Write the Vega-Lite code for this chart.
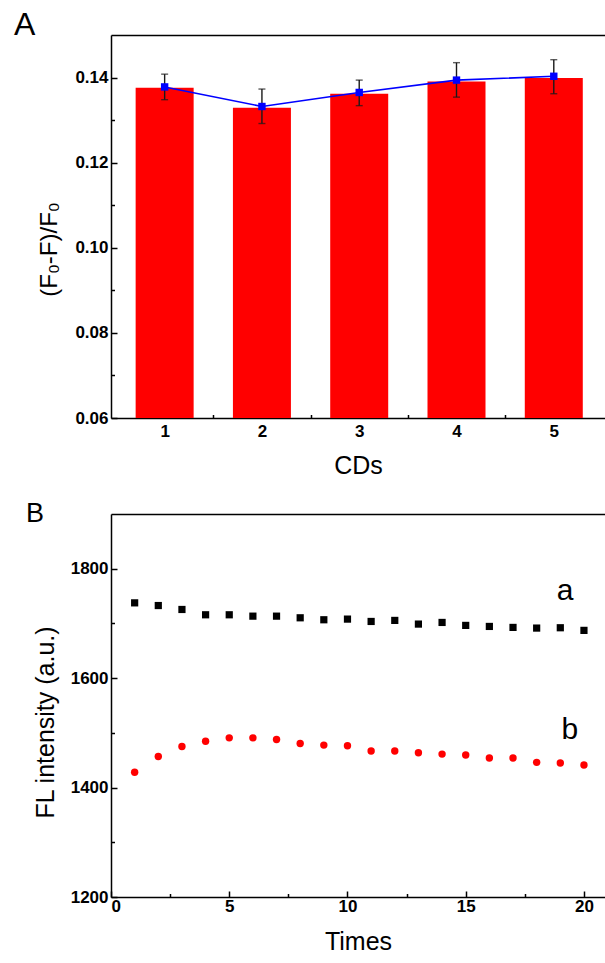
{
  "$schema": "https://vega.github.io/schema/vega-lite/v6.json",
  "autosize": {"type": "pad"},
  "padding": {"left": 14, "top": 9, "right": 0, "bottom": 0},
  "background": "white",
  "spacing": 96,
  "bounds": "flush",
  "config": {
    "view": {"stroke": null},
    "font": "Liberation Sans",
    "axis": {
      "grid": false,
      "domainColor": "black",
      "domainWidth": 1.5,
      "tickColor": "black",
      "tickWidth": 1.5,
      "labelColor": "black",
      "labelFont": "Liberation Sans",
      "labelFontWeight": "bold",
      "labelFontSize": 17,
      "titleColor": "black",
      "titleFont": "Liberation Sans",
      "titleFontWeight": "normal",
      "titleFontSize": 25
    }
  },
  "datasets": {
    "cds": [
      {"cd": 1, "bar": 0.1376, "mean": 0.1378, "lo": 0.1348, "hi": 0.1408},
      {"cd": 2, "bar": 0.1329, "mean": 0.1332, "lo": 0.1292, "hi": 0.1373},
      {"cd": 3, "bar": 0.1362, "mean": 0.1365, "lo": 0.1334, "hi": 0.1394},
      {"cd": 4, "bar": 0.1391, "mean": 0.1394, "lo": 0.1354, "hi": 0.1435},
      {"cd": 5, "bar": 0.1399, "mean": 0.1403, "lo": 0.1362, "hi": 0.1442}
    ],
    "fl": [
      {"t": 1, "s": "a", "v": 1737.6}, {"t": 2, "s": "a", "v": 1732.7}, {"t": 3, "s": "a", "v": 1725.5},
      {"t": 4, "s": "a", "v": 1715.8}, {"t": 5, "s": "a", "v": 1715.8}, {"t": 6, "s": "a", "v": 1713.3},
      {"t": 7, "s": "a", "v": 1713.3}, {"t": 8, "s": "a", "v": 1710.3}, {"t": 9, "s": "a", "v": 1706.7},
      {"t": 10, "s": "a", "v": 1707.9}, {"t": 11, "s": "a", "v": 1703.6}, {"t": 12, "s": "a", "v": 1705.5},
      {"t": 13, "s": "a", "v": 1698.8}, {"t": 14, "s": "a", "v": 1701.8}, {"t": 15, "s": "a", "v": 1696.4},
      {"t": 16, "s": "a", "v": 1694.5}, {"t": 17, "s": "a", "v": 1692.7}, {"t": 18, "s": "a", "v": 1691.5},
      {"t": 19, "s": "a", "v": 1692.1}, {"t": 20, "s": "a", "v": 1687.3},
      {"t": 1, "s": "b", "v": 1427.9}, {"t": 2, "s": "b", "v": 1456.9}, {"t": 3, "s": "b", "v": 1475.1},
      {"t": 4, "s": "b", "v": 1484.8}, {"t": 5, "s": "b", "v": 1490.9}, {"t": 6, "s": "b", "v": 1490.9},
      {"t": 7, "s": "b", "v": 1487.9}, {"t": 8, "s": "b", "v": 1480.6}, {"t": 9, "s": "b", "v": 1477.6},
      {"t": 10, "s": "b", "v": 1476.4}, {"t": 11, "s": "b", "v": 1466.7}, {"t": 12, "s": "b", "v": 1466.7},
      {"t": 13, "s": "b", "v": 1463.6}, {"t": 14, "s": "b", "v": 1461.2}, {"t": 15, "s": "b", "v": 1459.4},
      {"t": 16, "s": "b", "v": 1453.9}, {"t": 17, "s": "b", "v": 1453.9}, {"t": 18, "s": "b", "v": 1446.1},
      {"t": 19, "s": "b", "v": 1444.8}, {"t": 20, "s": "b", "v": 1441.2}
    ],
    "labels": [
      {"t": 19.2, "v": 1742, "label": "a"},
      {"t": 19.4, "v": 1489, "label": "b"}
    ]
  },
  "vconcat": [
    {
      "width": 494,
      "height": 383,
      "title": {"text": "A", "anchor": "start", "frame": "group", "fontSize": 32, "fontWeight": "normal", "font": "Liberation Sans", "color": "black", "baseline": "alphabetic", "offset": -32, "dx": -97},
      "data": {"name": "cds"},
      "resolve": {"axis": {"x": "independent", "y": "independent"}},
      "layer": [
        {
          "mark": {"type": "bar", "color": "#ff0000", "width": 58},
          "encoding": {
            "x": {"field": "cd", "type": "quantitative",
              "scale": {"domain": [0.5, 5.475], "nice": false, "zero": false},
              "axis": {"orient": "bottom", "values": [1, 2, 3, 4, 5], "format": "d", "tickSize": -6, "labelPadding": 11, "title": "CDs", "titlePadding": 14}},
            "y": {"field": "bar", "type": "quantitative",
              "scale": {"domain": [0.06, 0.15], "nice": false, "zero": false},
              "axis": {"orient": "left", "values": [0.06, 0.08, 0.1, 0.12, 0.14], "format": ".2f", "tickSize": -6, "labelPadding": 9, "title": "(F₀-F)/F₀", "titleFontSize": 24, "titlePadding": 13, "titleY": 214}},
            "y2": {"datum": 0.06}
          }
        },
        {
          "mark": {"type": "rule", "color": "#1a1a1a", "strokeWidth": 1.4},
          "encoding": {
            "x": {"field": "cd", "type": "quantitative",
              "axis": {"orient": "bottom", "values": [1.5, 2.5, 3.5, 4.5], "tickSize": -3.5, "labels": false, "domain": false, "title": null}},
            "y": {"field": "lo", "type": "quantitative",
              "axis": {"orient": "left", "values": [0.07, 0.09, 0.11, 0.13], "tickSize": -3.5, "labels": false, "domain": false, "title": null}},
            "y2": {"field": "hi"}
          }
        },
        {
          "mark": {"type": "line", "color": "#0000ff", "strokeWidth": 1.6},
          "encoding": {
            "x": {"field": "cd", "type": "quantitative",
              "axis": {"orient": "top", "ticks": false, "labels": false, "domain": true, "title": null}},
            "y": {"field": "mean", "type": "quantitative", "axis": null}
          }
        },
        {
          "mark": {"type": "tick", "orient": "horizontal", "color": "#1a1a1a", "size": 7, "thickness": 1.4},
          "encoding": {
            "x": {"field": "cd", "type": "quantitative", "axis": null},
            "y": {"field": "lo", "type": "quantitative", "axis": null}
          }
        },
        {
          "mark": {"type": "tick", "orient": "horizontal", "color": "#1a1a1a", "size": 7, "thickness": 1.4},
          "encoding": {
            "x": {"field": "cd", "type": "quantitative", "axis": null},
            "y": {"field": "hi", "type": "quantitative", "axis": null}
          }
        },
        {
          "mark": {"type": "point", "shape": "square", "filled": true, "opacity": 1, "color": "#0000ff", "size": 55},
          "encoding": {
            "x": {"field": "cd", "type": "quantitative", "axis": null},
            "y": {"field": "mean", "type": "quantitative", "axis": null}
          }
        }
      ]
    },
    {
      "width": 494,
      "height": 383,
      "title": {"text": "B", "anchor": "start", "frame": "group", "fontSize": 27, "fontWeight": "normal", "font": "Liberation Sans", "color": "black", "baseline": "alphabetic", "offset": -35, "dx": -85},
      "resolve": {"axis": {"x": "independent", "y": "independent"}},
      "layer": [
        {
          "data": {"name": "fl"},
          "transform": [{"filter": "datum.s === 'a'"}],
          "mark": {"type": "point", "shape": "square", "filled": true, "opacity": 1, "color": "black", "size": 52},
          "encoding": {
            "x": {"field": "t", "type": "quantitative",
              "scale": {"domain": [0, 20.89], "nice": false, "zero": false},
              "axis": {"orient": "bottom", "values": [0, 5, 10, 15, 20], "format": "d", "tickSize": -6, "labelPadding": 7, "title": "Times", "titlePadding": 15}},
            "y": {"field": "v", "type": "quantitative",
              "scale": {"domain": [1200, 1900], "nice": false, "zero": false},
              "axis": {"orient": "left", "values": [1200, 1400, 1600, 1800], "format": "d", "tickSize": -6, "labelPadding": 9, "title": "FL intensity (a.u.)", "titlePadding": 12, "titleY": 208}}
          }
        },
        {
          "data": {"name": "fl"},
          "transform": [{"filter": "datum.s === 'b'"}],
          "mark": {"type": "point", "shape": "circle", "filled": true, "opacity": 1, "color": "#ff0000", "size": 55},
          "encoding": {
            "x": {"field": "t", "type": "quantitative",
              "axis": {"orient": "bottom", "values": [2.5, 7.5, 12.5, 17.5], "tickSize": -3.5, "labels": false, "domain": false, "title": null}},
            "y": {"field": "v", "type": "quantitative",
              "axis": {"orient": "left", "values": [1300, 1500, 1700], "tickSize": -3.5, "labels": false, "domain": false, "title": null}}
          }
        },
        {
          "data": {"name": "labels"},
          "mark": {"type": "text", "fontSize": 30, "font": "Liberation Sans", "color": "black", "align": "center", "baseline": "alphabetic"},
          "encoding": {
            "x": {"field": "t", "type": "quantitative",
              "axis": {"orient": "top", "ticks": false, "labels": false, "domain": true, "title": null}},
            "y": {"field": "v", "type": "quantitative", "axis": null},
            "text": {"field": "label"}
          }
        }
      ]
    }
  ]
}
